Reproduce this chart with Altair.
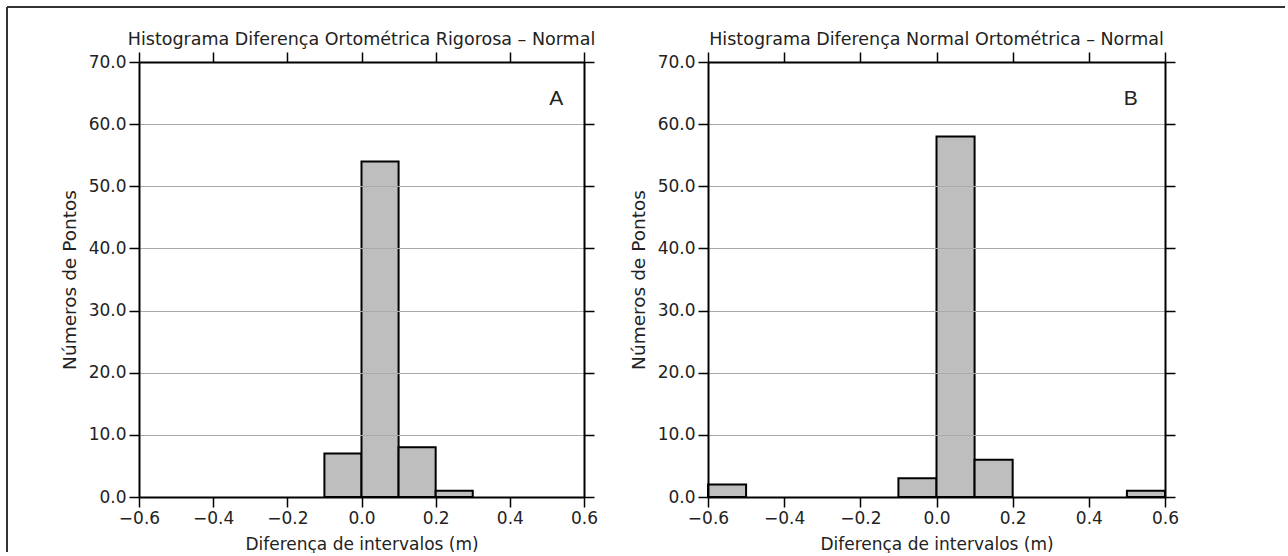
import altair as alt
import pandas as pd

# ---------------- data ----------------
x_ticks = [-0.6, -0.4, -0.2, 0.0, 0.2, 0.4, 0.6]
y_ticks = [0, 10, 20, 30, 40, 50, 60, 70]

a_title = "Histograma Diferença Ortométrica Rigorosa – Normal"
a_start = [-0.1, 0.0, 0.1, 0.2]
a_end = [0.0, 0.1, 0.2, 0.3]
a_count = [7, 54, 8, 1]

b_title = "Histograma Diferença Normal Ortométrica – Normal"
b_start = [-0.6, -0.1, 0.0, 0.1, 0.5]
b_end = [-0.5, 0.0, 0.1, 0.2, 0.6]
b_count = [2, 3, 58, 6, 1]

panel_letters = ["A", "B"]
letter_x = [0.525, 0.51]
letter_y = [64, 64]

x_title = "Diferença de intervalos (m)"
y_title = "Números de Pontos"

FONT = "DejaVu Sans"
INK = "#222222"


def panel(title, start, end, count, letter, lx, ly, width, height, frame=False):
    xs = alt.Scale(domain=[-0.6, 0.6], nice=False, zero=False)
    ys = alt.Scale(domain=[0, 70], nice=False)
    common = dict(domainColor="black", domainWidth=2, tickColor="black",
                  tickWidth=1.5, tickSize=10, zindex=1, labelFlush=False, labelOverlap=False,
                  labelFont=FONT, titleFont=FONT, labelColor=INK, titleColor=INK)

    bars_df = pd.DataFrame({"start": start, "end": end, "count": count})
    bars = alt.Chart(bars_df).mark_bar(fill="#bebebe", stroke="black", strokeWidth=2).encode(
        x=alt.X("start:Q", scale=xs,
                axis=alt.Axis(orient="bottom", values=x_ticks, format=".1f", title=x_title,
                              grid=False, labelFontSize=17, titleFontSize=17,
                              labelPadding=3, titlePadding=10, titleFontWeight="normal", **common)),
        x2="end:Q",
        y=alt.Y("count:Q", scale=ys,
                axis=alt.Axis(orient="left", values=y_ticks, format=".1f", title=y_title,
                              grid=True, gridColor="#aaaaaa", gridWidth=1,
                              labelFontSize=17, titleFontSize=18.5, labelPadding=3,
                              titlePadding=9, titleFontWeight="normal", **common)),
        y2=alt.datum(0),
    )

    let_df = pd.DataFrame({"letter": [letter], "lx": [lx], "ly": [ly]})
    letters = alt.Chart(let_df).mark_text(font="Liberation Sans", fontSize=21, color=INK,
                                          align="center", baseline="middle").encode(
        x=alt.X("lx:Q", scale=xs,
                axis=alt.Axis(orient="top", values=x_ticks, labels=False, title=None, grid=False, **common)),
        y=alt.Y("ly:Q", scale=ys,
                axis=alt.Axis(orient="right", values=y_ticks, labels=False, title=None, grid=False, **common)),
        text="letter:N",
    )

    title_df = pd.DataFrame({"t": [title]})
    ttl = alt.Chart(title_df).mark_text(font=FONT, fontSize=17.5, color=INK,
                                        align="center", baseline="alphabetic").encode(
        x=alt.value(width / 2), y=alt.value(-17), text="t:N")

    layers = [bars, letters, ttl]
    if frame:
        fdf = pd.DataFrame({"k": [0]})
        left = alt.Chart(fdf).mark_rule(color="#333333", strokeWidth=2).encode(
            x=alt.value(-132), y=alt.value(-55), y2=alt.value(490))
        top = alt.Chart(fdf).mark_rule(color="#333333", strokeWidth=2).encode(
            x=alt.value(-132), x2=alt.value(1146), y=alt.value(-55))
        layers += [left, top]

    return alt.layer(*layers).resolve_axis(x="independent", y="independent").properties(
        width=width, height=height)


pa = panel(a_title, a_start, a_end, a_count, panel_letters[0], letter_x[0], letter_y[0], 445, 435, frame=True)
pb = panel(b_title, b_start, b_end, b_count, panel_letters[1], letter_x[1], letter_y[1], 457, 435)

chart = alt.hconcat(pa, pb, spacing=124, bounds="flush").properties(
    padding={"left": 6, "top": 6, "right": 0, "bottom": 0},
    background="white",
).configure_view(stroke=None)

chart.save("out.html", embed_options={"renderer": "svg", "actions": False})
